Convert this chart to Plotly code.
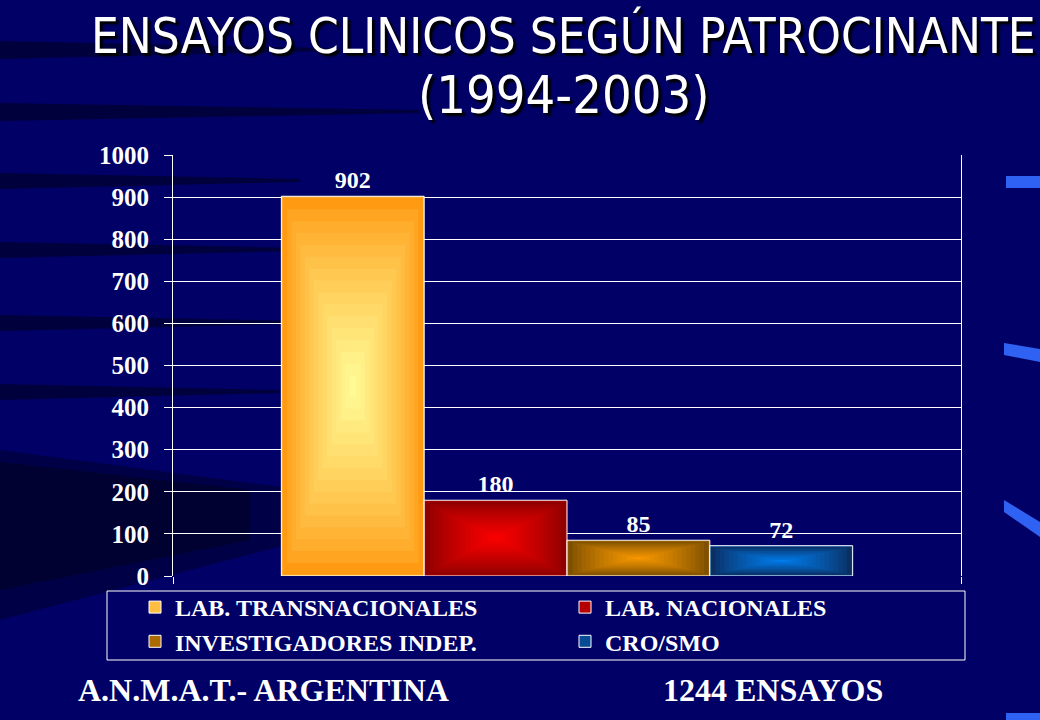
import plotly.graph_objects as go

# ---- data ----
categories = ["ENSAYOS"]
series_names = ["LAB. TRANSNACIONALES", "LAB. NACIONALES", "INVESTIGADORES INDEP.", "CRO/SMO"]
series_values = [902, 180, 85, 72]
edge_colors = ["#FF9A12", "#8E0000", "#7E5000", "#0B2F63"]
center_colors = ["#FFFF9C", "#FF0000", "#FF9C00", "#0080F2"]
y_ticks = [0, 100, 200, 300, 400, 500, 600, 700, 800, 900, 1000]

title_line1 = "ENSAYOS CLINICOS SEGÚN PATROCINANTE"
title_line2 = "(1994-2003)"
footer_left = "A.N.M.A.T.- ARGENTINA"
footer_right = "1244 ENSAYOS"

BG = "#000066"
SERIF = "Liberation Serif, Times New Roman, serif"
TITLE_FONT = "DejaVu Sans Condensed, DejaVu Sans, sans-serif"

# plot-area pixel geometry (for paper-coordinate conversion of decorations)
L, R, T, B = 173, 961, 155, 576
PW, PH = R - L, B - T


def px(xp):
    return (xp - L) / PW


def py(yp):
    return (B - yp) / PH


def hex2rgb(h):
    h = h.lstrip("#")
    return tuple(int(h[i:i + 2], 16) for i in (0, 2, 4))


def mix(c1, c2, t):
    a, b = hex2rgb(c1), hex2rgb(c2)
    return "rgb(%d,%d,%d)" % tuple(round(a[i] + (b[i] - a[i]) * t) for i in range(3))


GROUP = 0.725                      # fraction of the category occupied by the group
BW = GROUP / len(series_values)    # width of one bar (category units)
INSET_X = 1.2 / PW                 # ~1 px inset (category units) for the shading
INSET_Y = 1.2 * 1000 / PH          # ~1 px inset (value units) for the shading

fig = go.Figure()
# main bars (legend entries, outlines, value labels)
for i, (name, val) in enumerate(zip(series_names, series_values)):
    fig.add_trace(go.Bar(
        x=categories, y=[val], name=name,
        width=[BW], offset=[-GROUP / 2 + i * BW],
        marker=dict(color=mix(edge_colors[i], center_colors[i], 0.35),
                    line=dict(color="white", width=1)),
        text=[str(val)], textposition="outside", cliponaxis=False,
        textfont=dict(family=SERIF, size=24, color="white", weight="bold"),
    ))

# "from centre" gradient shading of each bar (concentric inner layers)
NL = 16
for i, val in enumerate(series_values):
    off0 = -GROUP / 2 + i * BW
    for k in range(NL):
        s = k / NL
        fig.add_trace(go.Bar(
            x=categories, y=[val * (1 - s) - 2 * INSET_Y], base=[val * s / 2 + INSET_Y],
            width=[BW * (1 - s) - 2 * INSET_X], offset=[off0 + BW * s / 2 + INSET_X],
            marker=dict(color=mix(edge_colors[i], center_colors[i], (s ** 0.8)),
                        line=dict(width=0)),
            showlegend=False, hoverinfo="skip",
        ))

fig.update_layout(
    width=1040, height=720,
    paper_bgcolor=BG, plot_bgcolor="rgba(0,0,0,0)",
    margin=dict(l=L, r=1040 - R, t=T, b=720 - B),
    barmode="overlay",
    showlegend=True,
    legend=dict(
        orientation="h", x=px(135), y=py(585), xanchor="left", yanchor="top",
        bgcolor="rgba(0,0,0,0)", borderwidth=0,
        entrywidth=385, entrywidthmode="pixels",
        font=dict(family=SERIF, size=24, color="white", weight="bold"),
        traceorder="normal", itemclick=False,
    ),
    xaxis=dict(
        range=[-0.5, 0.5],
        showticklabels=False, ticks="outside", tickson="boundaries",
        ticklen=7, tickcolor="white", showgrid=False, showline=False,
        zeroline=False,
    ),
    yaxis=dict(
        range=[0, 1000], tickvals=y_ticks, showgrid=True, gridcolor="white",
        gridwidth=1, showline=True, linecolor="white", linewidth=1, mirror=True,
        ticks="outside", ticklen=8, tickcolor="white", zeroline=False,
        ticklabelstandoff=10,
        tickfont=dict(family=SERIF, size=25, color="white", weight="bold"),
    ),
    font=dict(family=SERIF, color="white"),
)

# legend frame
fig.add_shape(type="rect", xref="paper", yref="paper",
              x0=px(107), x1=px(965), y0=py(591), y1=py(660),
              line=dict(color="white", width=1), fillcolor="rgba(0,0,0,0)")

# background decoration: dark sweeping bands on the left
for yc, th, ln in [(50, 9, 330), (112, 9, 420), (181, 8, 300), (250, 8, 300),
                   (323, 8, 300), (392, 8, 280)]:
    pts = [(0, yc - th), (ln, yc - 2), (ln, yc + 1), (0, yc + th)]
    path = "M " + " L ".join(f"{px(a)},{py(b)}" for a, b in pts) + " Z"
    fig.add_shape(type="path", xref="paper", yref="paper", path=path,
                  fillcolor="black", opacity=0.4, line=dict(width=0), layer="below")
for op, pts in [(0.3, [(0, 450), (380, 500), (380, 520), (0, 620)]),
                (0.3, [(0, 462), (250, 490), (250, 540), (0, 590)])]:
    path = "M " + " L ".join(f"{px(a)},{py(b)}" for a, b in pts) + " Z"
    fig.add_shape(type="path", xref="paper", yref="paper", path=path,
                  fillcolor="black", opacity=op, line=dict(width=0), layer="below")

# decorative blue streaks at the right edge of the slide
for pts in [
    [(1006, 176), (1040, 176), (1040, 188), (1006, 188)],
    [(1004, 343), (1040, 349), (1040, 362), (1004, 355)],
    [(1004, 500), (1040, 522), (1040, 537), (1004, 512)],
    [(1006, 713), (1040, 713), (1040, 720), (1006, 720)],
]:
    path = "M " + " L ".join(f"{px(a)},{py(b)}" for a, b in pts) + " Z"
    fig.add_shape(type="path", xref="paper", yref="paper", path=path,
                  fillcolor="#2F62F2", line=dict(width=0), layer="below")

title_font = dict(family=TITLE_FONT, size=49, color="white",
                  shadow="3px 3px 2px #000000")
fig.add_annotation(text=title_line1, xref="paper", yref="paper",
                   x=px(563), y=py(36),
                   xanchor="center", yanchor="middle", showarrow=False,
                   font=title_font)
fig.add_annotation(text=title_line2, xref="paper", yref="paper",
                   x=px(563), y=py(95),
                   xanchor="center", yanchor="middle", showarrow=False,
                   font=dict(title_font, size=52))

foot_font = dict(family=SERIF, size=32, color="white", weight="bold")
fig.add_annotation(text=footer_left, xref="paper", yref="paper",
                   x=px(76), y=py(690),
                   xanchor="left", yanchor="middle", showarrow=False, font=foot_font)
fig.add_annotation(text=footer_right, xref="paper", yref="paper",
                   x=px(661), y=py(690),
                   xanchor="left", yanchor="middle", showarrow=False, font=foot_font)

fig.write_html("out.html", config={"displayModeBar": False},
               post_script="document.body.style.margin='0';"
                           "document.body.style.background='#000066';")
